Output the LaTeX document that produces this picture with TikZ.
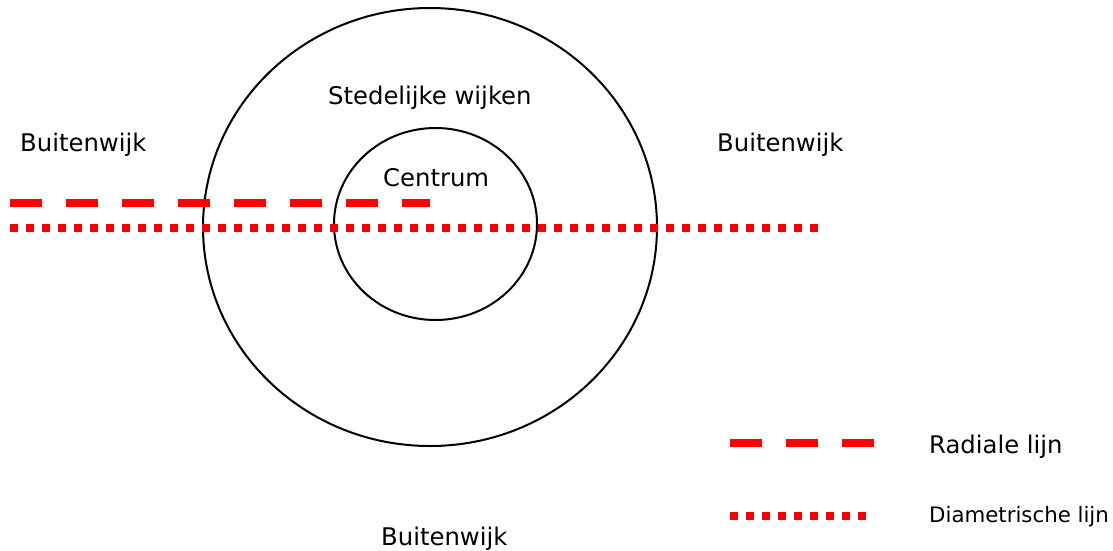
\documentclass[tikz,border=0pt]{standalone}
\usepackage{fontspec}
\setmainfont{DejaVu Sans}
\begin{document}
\begin{tikzpicture}[x=1pt,y=-1pt,
  lbl/.style={inner sep=0pt,anchor=base west,font=\fontsize{24.3}{27}\selectfont},
  lblsmall/.style={inner sep=0pt,anchor=base west,font=\fontsize{21.3}{24}\selectfont},
  ring/.style={draw=black,line width=2pt},
  radial/.style={draw=red,line width=8pt,dash pattern=on 32pt off 24pt},
  diam/.style={draw=red,line width=8pt,dash pattern=on 8pt off 8pt}]
\useasboundingbox[fill=white] (0,0) rectangle (1113,550);
\draw[ring] (430,227) ellipse [x radius=227, y radius=219];
\draw[ring] (435.5,224) ellipse [x radius=101.5, y radius=96];
\coordinate (r1) at (10,203); \coordinate (r2) at (430,203);
\coordinate (d1) at (10,228); \coordinate (d2) at (822,228);
\draw[radial] (r1) -- (r2);
\draw[diam] (d1) -- (d2);
\node[lbl] (bwl) at (20,151) {Buitenwijk};
\node[lbl] (bwr) at (717,151) {Buitenwijk};
\node[lbl] (bwb) at (381,545) {Buitenwijk};
\node[lbl] (sw) at (328,104) {Stedelijke wijken};
\node[lbl] (cm) at (383,186) {Centrum};
\coordinate (lr1) at (730,443); \coordinate (lr2) at (880,443);
\coordinate (ld1) at (730,516); \coordinate (ld2) at (872,516);
\draw[radial] (lr1) -- (lr2);
\draw[diam] (ld1) -- (ld2);
\node[lbl] (lrad) at (929,453) {Radiale lijn};
\node[lblsmall] (ldia) at (929,522) {Diametrische lijn};
\end{tikzpicture}
\end{document}
